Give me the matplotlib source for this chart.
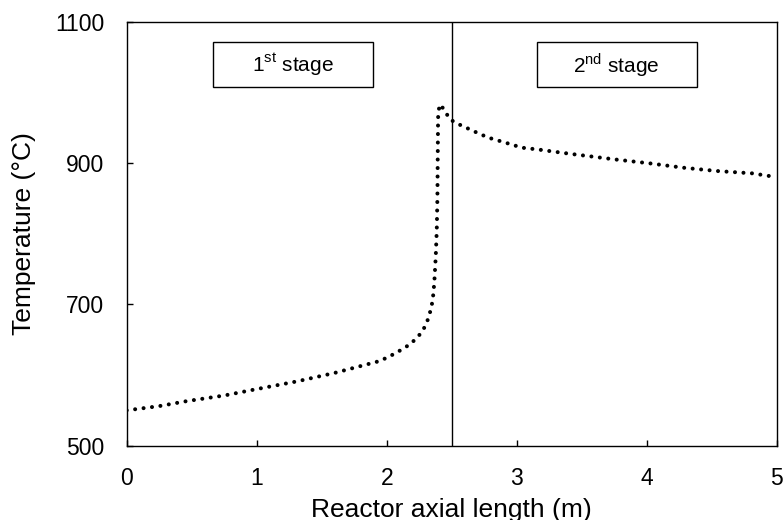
import matplotlib.pyplot as plt
from matplotlib.patches import Rectangle

plt.rcParams['font.family'] = ['Liberation Sans', 'DejaVu Sans']
plt.rcParams['mathtext.fontset'] = 'custom'
plt.rcParams['mathtext.rm'] = 'Liberation Sans'

# temperature profile along the reactor
length = [0.0, 0.25, 0.46, 0.75, 0.97, 1.31, 1.6, 1.95, 2.07, 2.18, 2.225,
          2.27, 2.30, 2.325, 2.34, 2.354, 2.366, 2.377, 2.385, 2.39, 2.392,
          2.395, 2.397, 2.412, 2.45, 2.485, 2.54, 2.60, 2.66, 2.78, 2.91,
          3.04, 3.17, 3.29, 3.42, 3.76, 4.02, 4.28, 4.54, 4.81, 5.0]
temp = [550, 556, 563, 571, 579, 591, 603, 620, 631, 643.5, 651.4,
        660.5, 670.8, 682.6, 693.9, 705.7, 730.7, 767, 805, 852, 899.6,
        961, 973.6, 983, 973, 962, 956, 951, 945.8, 936, 929,
        921.7, 919, 916, 912.8, 905, 899.6, 893.4, 888.7, 885.4, 880]

stage_split = 2.5
stage_labels = ['1$^{\\mathrm{st}}$ stage', '2$^{\\mathrm{nd}}$ stage']
stage_boxes = [(0.662, 1.897), (3.154, 4.385)]

fig = plt.figure(figsize=(7.83, 5.2), dpi=100)
ax = fig.add_axes([0.1618, 0.1429, 0.8302, 0.8154])

ax.plot(length, temp, color='black', lw=2.9, dash_capstyle='round',
        linestyle=(0, (0.01, 2.1)))
ax.axvline(stage_split, color='black', lw=1.0)

for (x0, x1), lab in zip(stage_boxes, stage_labels):
    ax.add_patch(Rectangle((x0, 1007), x1 - x0, 64, facecolor='white',
                           edgecolor='black', lw=1.0, zorder=3))
    ax.text((x0 + x1) / 2, 1039, lab, ha='center', va='center',
            fontsize=15, zorder=4)

ax.set_xlim(0, 5)
ax.set_ylim(500, 1100)
ax.set_xticks([0, 1, 2, 3, 4, 5])
ax.set_yticks([500, 700, 900, 1100])
ax.tick_params(direction='in', length=4.5, width=1.0, labelsize=16.5)
ax.tick_params(axis='x', pad=15)
ax.tick_params(axis='y', pad=16)
for s in ax.spines.values():
    s.set_linewidth(1.0)

ax.set_xlabel('Reactor axial length (m)', fontsize=19, labelpad=6)
ax.set_ylabel('Temperature (°C)', fontsize=19, labelpad=14)

fig.savefig('out.png', dpi=100)
